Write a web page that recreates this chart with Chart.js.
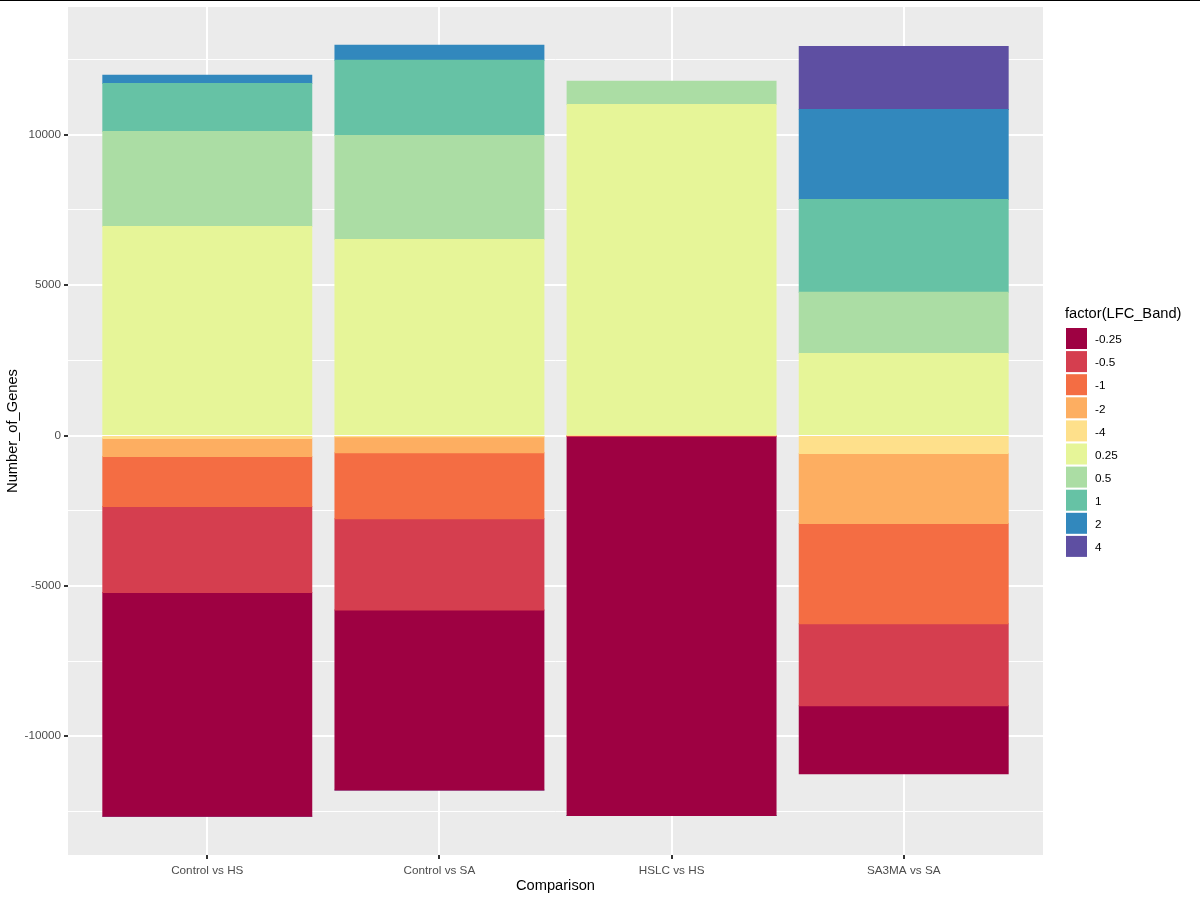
<!DOCTYPE html>
<html>
<head>
<meta charset="utf-8">
<title>Number of genes per comparison</title>
<script src="https://cdn.jsdelivr.net/npm/chart.js@4.4.1/dist/chart.umd.min.js"></script>
<style>
  html, body { margin: 0; padding: 0; background: #ffffff; }
  #wrap { position: relative; width: 1200px; height: 900px; }
  #topline { position: absolute; left: 0; top: 0; width: 1200px; height: 1px; background: #000000; }
</style>
</head>
<body>
<div id="wrap">
  <canvas id="genesChart" width="1200" height="900"></canvas>
  <div id="topline"></div>
</div>
<script>
// x categories
const comparisons = ['Control vs HS', 'Control vs SA', 'HSLC vs HS', 'SA3MA vs SA'];

// genes per LFC band, one value per comparison
const band_m025 = [-7440, -5990, -12610, -2260];
const band_m05  = [-2860, -3030, -30, -2730];
const band_m1   = [-1660, -2200, 0, -3330];
const band_m2   = [-600, -530, 0, -2330];
const band_m4   = [-100, -40, 0, -600];
const band_p025 = [6950, 6520, 11010, 2730];
const band_p05  = [3160, 3460, 770, 2030];
const band_p1   = [1600, 2500, 0, 3090];
const band_p2   = [270, 500, 0, 2990];
const band_p4   = [0, 0, 0, 2100];

// legend order
const bandLabels = ['-0.25', '-0.5', '-1', '-2', '-4', '0.25', '0.5', '1', '2', '4'];
const bandValues = [band_m025, band_m05, band_m1, band_m2, band_m4, band_p025, band_p05, band_p1, band_p2, band_p4];
const bandColors = ['#9E0142', '#D53E4F', '#F46D43', '#FDAE61', '#FEE08B', '#E6F598', '#ABDDA4', '#66C2A5', '#3288BD', '#5E4FA2'];

// y axis ticks
const yMajorTicks = [-10000, -5000, 0, 5000, 10000];
const yMinorTicks = [-12500, -7500, -2500, 2500, 7500, 12500];

const legendTitle = 'factor(LFC_Band)';
const fontFamily = '"Liberation Sans", Arial, sans-serif';

// stacking order: -4 sits next to zero, -0.25 at the bottom; 0.25 next to zero, 4 on top
const stackOrder = [4, 3, 2, 1, 0, 5, 6, 7, 8, 9];

const datasets = stackOrder.map(i => ({
    label: bandLabels[i],
    data: bandValues[i].map((v, j) => ({ x: j + 1, y: v })),
    backgroundColor: bandColors[i],
    borderWidth: 0,
    inflateAmount: 0.5, // avoid seams between stacked pieces
    barPercentage: 0.9,
    categoryPercentage: 1.0
}));

const isMajor = v => yMajorTicks.includes(v);

// grey panel behind the grid
const panelBackground = {
    id: 'panelBackground',
    beforeDraw(chart) {
        const { ctx, chartArea: a } = chart;
        ctx.save();
        ctx.fillStyle = '#EBEBEB';
        ctx.fillRect(a.left, a.top, a.right - a.left, a.bottom - a.top);
        ctx.restore();
    }
};

// ggplot style legend on the right
const bandLegend = {
    id: 'bandLegend',
    afterDraw(chart) {
        const ctx = chart.ctx;
        ctx.save();
        ctx.textBaseline = 'middle';
        ctx.textAlign = 'left';
        ctx.fillStyle = '#000000';
        ctx.font = '14.67px ' + fontFamily;
        ctx.fillText(legendTitle, 1065, 314);
        ctx.font = '11.73px ' + fontFamily;
        bandLabels.forEach((lab, i) => {
            const y = 328 + i * 23.1;
            ctx.fillStyle = bandColors[i];
            ctx.fillRect(1066, y, 21, 21);
            ctx.fillStyle = '#000000';
            ctx.fillText(lab, 1095, y + 12);
        });
        ctx.restore();
    }
};

new Chart(document.getElementById('genesChart'), {
    type: 'bar',
    data: { datasets: datasets },
    options: {
        responsive: false,
        animation: false,
        layout: { padding: { left: 0, top: 7, right: 157, bottom: 0 } },
        plugins: {
            legend: { display: false },
            tooltip: { enabled: false }
        },
        scales: {
            x: {
                type: 'linear',
                stacked: true,
                min: 0.4,
                max: 4.6,
                offset: false,
                afterBuildTicks: s => { s.ticks = comparisons.map((c, i) => ({ value: i + 1 })); },
                afterFit: s => { s.height = 45; s.paddingLeft = 0; s.paddingRight = 0; },
                grid: { color: '#FFFFFF', lineWidth: 2, offset: false, tickLength: 4, tickColor: '#333333', tickWidth: 2 },
                border: { display: false },
                ticks: {
                    callback: v => comparisons[v - 1],
                    color: '#4D4D4D',
                    font: { family: fontFamily, size: 11.73 },
                    padding: 5,
                    maxRotation: 0,
                    autoSkip: false
                },
                title: {
                    display: true,
                    text: 'Comparison',
                    color: '#000000',
                    font: { family: fontFamily, size: 14.67 },
                    padding: { top: 0, bottom: 5 }
                }
            },
            y: {
                stacked: true,
                min: -13950,
                max: 14250,
                afterBuildTicks: s => {
                    s.ticks = yMajorTicks.concat(yMinorTicks).sort((a, b) => a - b).map(v => ({ value: v }));
                },
                afterFit: s => { s.width = 68; s.paddingTop = 0; s.paddingBottom = 0; },
                grid: {
                    color: '#FFFFFF',
                    lineWidth: c => (c.tick && isMajor(c.tick.value)) ? 2 : 1,
                    tickLength: 4,
                    tickColor: c => (c.tick && isMajor(c.tick.value)) ? '#333333' : 'rgba(0,0,0,0)',
                    tickWidth: 2
                },
                border: { display: false },
                ticks: {
                    callback: v => isMajor(v) ? String(v) : '',
                    color: '#4D4D4D',
                    font: { family: fontFamily, size: 11.73 },
                    padding: 3
                },
                title: {
                    display: true,
                    text: 'Number_of_Genes',
                    color: '#000000',
                    font: { family: fontFamily, size: 14.67 },
                    padding: { top: 4, bottom: 0 }
                }
            }
        }
    },
    plugins: [panelBackground, bandLegend]
});
</script>
</body>
</html>
